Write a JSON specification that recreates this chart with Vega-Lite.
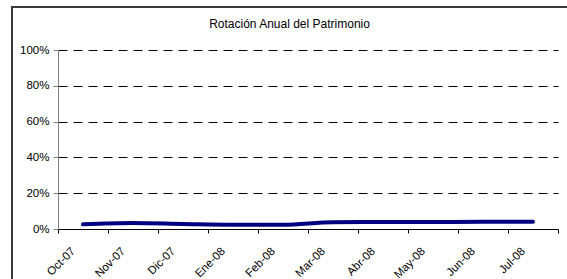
{
  "$schema": "https://vega.github.io/schema/vega-lite/v6.json",
  "autosize": {"type": "none"},
  "width": 555,
  "height": 272,
  "padding": {"left": 12, "top": 7, "right": 0, "bottom": 0},
  "background": "white",
  "config": {
    "view": {"stroke": "#3a3a3a", "strokeWidth": 2, "strokeDash": [555, 827, 272]},
    "font": "Liberation Sans"
  },
  "title": {
    "text": "Rotación Anual del Patrimonio",
    "fontSize": 12,
    "fontWeight": "normal",
    "font": "Liberation Sans",
    "color": "black",
    "anchor": "middle",
    "frame": "group",
    "offset": -33,
    "baseline": "alphabetic"
  },
  "data": {
    "values": [
      {"mes": "Oct-07", "valor": 0.026},
      {"mes": "Nov-07", "valor": 0.033},
      {"mes": "Dic-07", "valor": 0.028},
      {"mes": "Ene-08", "valor": 0.024},
      {"mes": "Feb-08", "valor": 0.024},
      {"mes": "Mar-08", "valor": 0.038},
      {"mes": "Abr-08", "valor": 0.039},
      {"mes": "May-08", "valor": 0.039},
      {"mes": "Jun-08", "valor": 0.040},
      {"mes": "Jul-08", "valor": 0.041}
    ]
  },
  "mark": {"type": "line", "color": "#000080", "strokeWidth": 4, "interpolate": "monotone", "strokeCap": "round"},
  "encoding": {
    "x": {
      "field": "mes",
      "type": "ordinal",
      "sort": null,
      "scale": {"type": "band", "range": [46, 546], "paddingInner": 0, "paddingOuter": 0},
      "axis": {
        "title": null,
        "offset": -50,
        "labelAngle": -45,
        "labelAlign": "right",
        "labelBaseline": "top",
        "labelOffset": -14,
        "tickBand": "extent",
        "tickSize": 4,
        "domainColor": "#000000",
        "tickColor": "#000000",
        "labelFontSize": 11.5,
        "labelColor": "black",
        "labelFont": "Liberation Sans",
        "grid": false,
        "labelPadding": 12
      }
    },
    "y": {
      "field": "valor",
      "type": "quantitative",
      "scale": {"domain": [0, 1], "range": [222, 43], "nice": false, "zero": true},
      "axis": {
        "title": null,
        "offset": -46,
        "values": [0, 0.2, 0.4, 0.6, 0.8, 1],
        "format": ".0%",
        "grid": true,
        "gridDash": [9, 6],
        "gridColor": "#000000",
        "gridOpacity": 1,
        "domainColor": "#808080",
        "tickColor": "#808080",
        "tickSize": 5,
        "labelFontSize": 11.5,
        "labelColor": "black",
        "labelFont": "Liberation Sans",
        "labelPadding": 4
      }
    }
  }
}
